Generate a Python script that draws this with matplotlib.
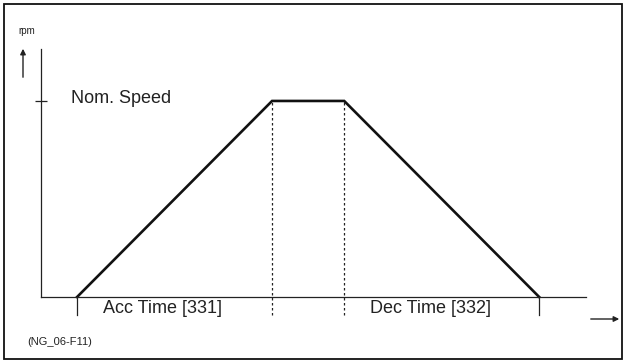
import matplotlib
matplotlib.use("Agg")
import matplotlib.pyplot as plt
from matplotlib.patches import Rectangle, FancyArrowPatch

# Data
times = [0, 10, 13.7, 23.7]          # start, end of acceleration, start of deceleration, stop
speeds = [0, 100, 100, 0]            # rpm (% of nominal)
nominal_speed = 100
label_acc = "Acc Time [331]"
label_dec = "Dec Time [332]"
label_nom = "Nom. Speed"
label_y = "rpm"
label_fig = "(NG_06-F11)"

W, H = 626, 363
plt.rcParams['font.family'] = ['Liberation Sans', 'DejaVu Sans']
fig = plt.figure(figsize=(W / 100, H / 100), dpi=100)

def fx(px):
    return px / W

def fy(py):
    return 1 - py / H

ink = '#222222'

# axes placed so spines form the chart axes
ax = fig.add_axes([fx(41), fy(297), fx(586) - fx(41), fy(49) - fy(297)])
ax.set_xlim(-1.85, 26.1)
ax.set_ylim(0, 126.5)
for s in ['top', 'right']:
    ax.spines[s].set_visible(False)
for s in ['left', 'bottom']:
    ax.spines[s].set_linewidth(0.9)
    ax.spines[s].set_color(ink)
ax.set_xticks([])
ax.set_yticks([nominal_speed])
ax.set_yticklabels([])
ax.tick_params(axis='y', direction='inout', length=9, width=0.9, color=ink)

# speed profile
ax.plot(times, speeds, color='#111111', lw=1.9, solid_joinstyle='miter', clip_on=False)

# dashed verticals at plateau corners
for t in times[1:3]:
    ax.plot([t, t], [-9.2, nominal_speed], color=ink, lw=0.9, ls=(0, (2, 2)), clip_on=False)
# solid ticks at start and stop
for t in (times[0], times[3]):
    ax.plot([t, t], [-9.2, 0], color=ink, lw=0.9, clip_on=False)

# labels
ax.text(times[0] - 0.3, nominal_speed - 1.2, label_nom, fontsize=13, va='baseline', ha='left', color=ink)
ax.text(times[0] + 4.36, -8.2, label_acc, fontsize=13, va='baseline', ha='center', color=ink)
ax.text(times[2] + 4.4, -8.2, label_dec, fontsize=13, va='baseline', ha='center', color=ink)

fig.text(fx(27), fy(31), label_y, fontsize=7, ha='center', va='center', color=ink)
fig.text(fx(27), fy(342), label_fig, fontsize=8, ha='left', va='center', color=ink)

# arrows
fig.add_artist(FancyArrowPatch((fx(23), fy(80)), (fx(23), fy(46)),
               transform=fig.transFigure, arrowstyle='-|>', mutation_scale=8, lw=1.0, color=ink))
fig.add_artist(FancyArrowPatch((fx(588), fy(319)), (fx(622), fy(319)),
               transform=fig.transFigure, arrowstyle='-|>', mutation_scale=8, lw=1.0, color=ink))

# border
fig.add_artist(Rectangle((fx(4), fy(359)), fx(622) - fx(4), fy(4) - fy(359),
               transform=fig.transFigure, fill=False, lw=1.3, ec='#111111'))

fig.savefig('out.png', dpi=100)
